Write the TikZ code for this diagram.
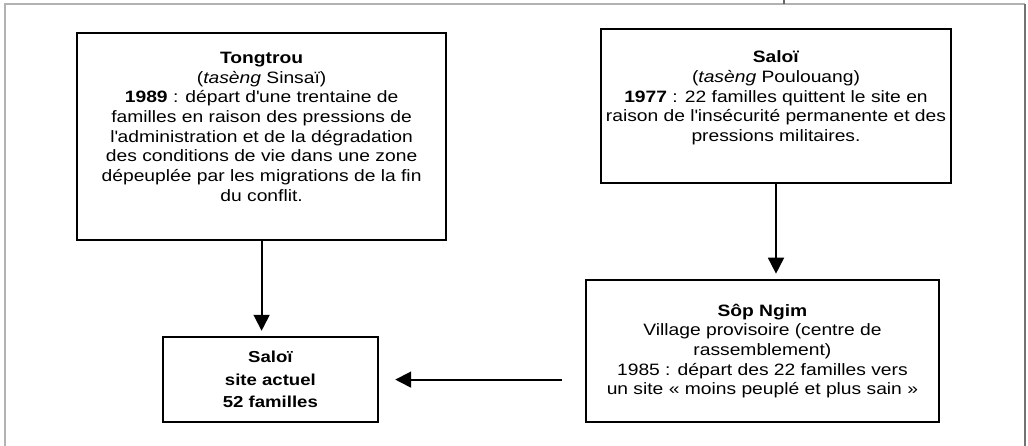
\documentclass[tikz,border=0pt]{standalone}
\usepackage{fontspec}
\setmainfont{Liberation Sans}[FakeStretch=1.17]
\usetikzlibrary{
  arrows.meta,
  positioning,
}

\begin{document}
\begin{tikzpicture}[
  village/.style={
    draw=black, line width=1.9pt, align=center, inner sep=0pt,
    font=\fontsize{11.7pt}{14pt}\selectfont, text=black,
  },
  connector/.style={
    -{Triangle[length=0.4cm,width=0.4cm]}, line width=1.3pt, color=black,
  },
  frame/.style={
    line width=0.9pt, color=black!30,
  },
]
  \useasboundingbox (0,0) rectangle (25.7,-11.15);

  % --- page frame ---
  \draw[frame] (0.125,-11.3) |- (25.625,-0.1);
  \draw[frame,color=black!55] (25.625,-0.1) -- (25.625,-11.3);
  \draw[frame,color=black!60] (19.6,0) -- (19.6,-0.1);

  % --- old sites ---
  \node[village, minimum width=9.225cm, minimum height=5.175cm] (tongtrou) at (6.54,-3.41)
    {\textbf{Tongtrou}\\
     (\textit{tasèng} Sinsaï)\\
     \textbf{1989} : départ d\textquotesingle une trentaine de\\
     familles en raison des pressions de\\
     l\textquotesingle administration et de la dégradation\\
     des conditions de vie dans une zone\\
     dépeuplée par les migrations de la fin\\
     du conflit.\\
     \mbox{}};
  \node[village, minimum width=8.75cm, minimum height=3.85cm] (saloi) at (19.4,-2.65)
    {\textbf{Saloï}\\
     (\textit{tasèng} Poulouang)\\
     \textbf{1977} : 22 familles quittent le site en\\
     raison de l\textquotesingle insécurité permanente et des\\
     pressions militaires.\\
     \mbox{}};

  % --- transit and present site ---
  \node[village, minimum width=8.825cm, minimum height=3.55cm] (sopngim) at (19.06,-8.775)
    {\textbf{Sôp Ngim}\\
     Village provisoire (centre de\\
     rassemblement)\\
     1985 : départ des 22 familles vers\\
     un site «~moins peuplé et plus sain~»};
  \node[village, minimum width=5.375cm, minimum height=2.125cm,
        font=\fontsize{11.3pt}{16pt}\selectfont\bfseries] (site) at (6.76,-9.49)
    {Saloï\\
     site actuel\\
     52 familles};

  % --- moves ---
  \draw[connector, shorten >=0.125cm] (tongtrou.south) -- (tongtrou.south |- site.north);
  \draw[connector, shorten >=0.125cm] (saloi.south) -- (saloi.south |- sopngim.north);
  \draw[connector, shorten <=0.575cm, shorten >=0.4cm] (sopngim.west |- site.east) -- (site.east);
\end{tikzpicture}
\end{document}
